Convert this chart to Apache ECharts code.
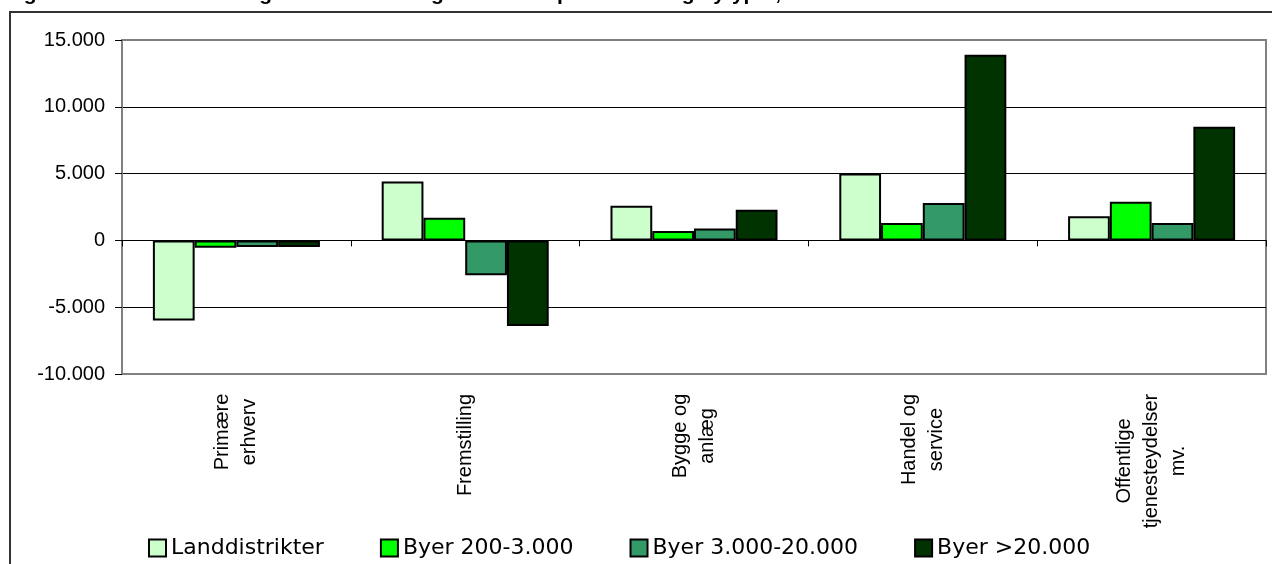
<!DOCTYPE html>
<html>
<head>
<meta charset="utf-8">
<script src="https://cdn.jsdelivr.net/npm/echarts@6/dist/echarts.min.js"></script>
<style>
html,body{margin:0;padding:0;background:#fff;}
#c{width:1272px;height:564px;}
</style>
</head>
<body>
<div id="c"></div>
<script>
var titleText = 'Figur 5.3. Absolut ændring i antal beskæftigede fordelt på erhverv og bytyper, 1997-2004';
var categories = ['Primære\nerhverv', 'Fremstilling', 'Bygge og\nanlæg', 'Handel og\nservice', 'Offentlige\ntjenesteydelser\nmv.'];
var seriesNames = ['Landdistrikter', 'Byer 200-3.000', 'Byer 3.000-20.000', 'Byer >20.000'];
var landdistrikter = [-6000, 4400, 2600, 5000, 1800];
var byer200 = [-550, 1700, 700, 1300, 2900];
var byer3000 = [-500, -2600, 900, 2800, 1300];
var byer20000 = [-500, -6400, 2300, 13900, 8500];
var seriesColors = ['#CCFFCC', '#00FF00', '#339966', '#003300'];
var yMin = -10000, yMax = 15000, yStep = 5000;

var FONT = 'Arial, "Liberation Sans", sans-serif';
var CAT_SIZE = 20;

function fmt(v) {
  var s = String(Math.abs(v)).replace(/\B(?=(\d{3})+(?!\d))/g, '.');
  return (v < 0 ? '-' : '') + s;
}

// per-category rich styles so that lines are centred inside each label block
var ctx = document.createElement('canvas').getContext('2d');
ctx.font = CAT_SIZE + 'px ' + FONT;
var rich = {};
categories.forEach(function (c, i) {
  var w = 0;
  c.split('\n').forEach(function (l) { w = Math.max(w, ctx.measureText(l).width); });
  rich['c' + i] = { width: Math.ceil(w) + 1, align: 'center', fontFamily: FONT,
                    fontSize: CAT_SIZE, lineHeight: 27, color: '#000' };
});

var chart = echarts.init(document.getElementById('c'));
var allData = [landdistrikter, byer200, byer3000, byer20000];
var series = allData.map(function (d, i) {
  return {
    name: seriesNames[i],
    type: 'bar',
    xAxisIndex: 0,
    data: d,
    barGap: '0%',
    barCategoryGap: '27%',
    itemStyle: { color: seriesColors[i], borderColor: '#000', borderWidth: 2 },
    emphasis: { disabled: true },
    z: 3
  };
});

chart.setOption({
  animation: false,
  graphic: [
    { type: 'rect', shape: { x: 10, y: 12, width: 1300, height: 600 },
      style: { fill: 'none', stroke: '#333', lineWidth: 2 }, z: 0, silent: true },
    { type: 'text', x: 5, y: 5,
      style: { text: titleText, fontFamily: FONT, fontWeight: 'bold', fontSize: 21,
               fill: '#000', verticalAlign: 'bottom' }, silent: true }
  ],
  grid: { left: 122, right: 6, top: 40, bottom: 190, show: true,
          borderColor: '#808080', borderWidth: 2, backgroundColor: 'transparent' },
  legend: {
    data: seriesNames,
    left: 148, top: 537, padding: 0,
    itemWidth: 17, itemHeight: 17, itemGap: 56,
    icon: 'rect',
    itemStyle: { borderColor: '#000', borderWidth: 2 },
    textStyle: { fontFamily: 'DejaVu Sans', fontSize: 22, color: '#000' },
    selectedMode: false
  },
  xAxis: [
    {
      type: 'category', data: categories, position: 'bottom',
      axisLine: { show: false, onZero: false },
      axisTick: { show: false },
      splitLine: { show: false },
      axisLabel: { interval: 0, rotate: 90, margin: 19,
                   formatter: function (value, index) {
                     return value.split('\n').map(function (l) { return '{c' + index + '|' + l + '}'; }).join('\n');
                   },
                   rich: rich, fontFamily: FONT, fontSize: CAT_SIZE, lineHeight: 27, color: '#000' }
    },
    {
      type: 'category', data: categories, position: 'bottom',
      axisLine: { show: true, onZero: true, lineStyle: { color: '#000', width: 1 } },
      axisTick: { show: true, length: 6, lineStyle: { color: '#000', width: 1 } },
      axisLabel: { show: false },
      splitLine: { show: false }
    }
  ],
  yAxis: {
    type: 'value', min: yMin, max: yMax, interval: yStep,
    axisLine: { show: true, lineStyle: { color: '#808080', width: 2 } },
    axisTick: { show: true, length: 7, lineStyle: { color: '#000', width: 1 } },
    axisLabel: { formatter: fmt, margin: 17, fontFamily: FONT, fontSize: 20, color: '#000' },
    splitLine: { show: true, lineStyle: { color: ['#808080', '#000', '#000', '#000', '#000', '#808080'], width: 1 } }
  },
  series: series
});
</script>
</body>
</html>
